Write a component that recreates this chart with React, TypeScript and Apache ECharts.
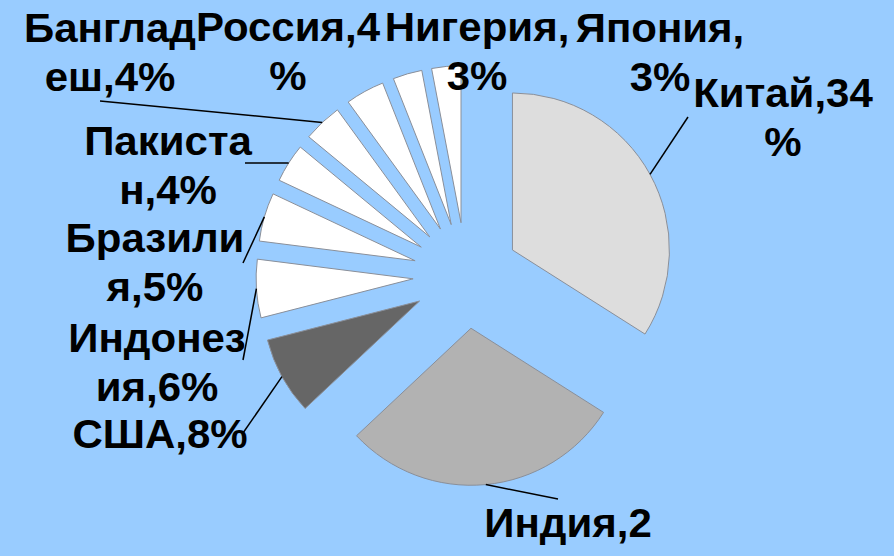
import React, { useEffect, useRef } from "react";
import * as echarts from "echarts";

// ---- data ----
const categories = [
  "Китай",
  "Индия",
  "США",
  "Индонезия",
  "Бразилия",
  "Пакистан",
  "Бангладеш",
  "Россия",
  "Нигерия",
  "Япония",
];
const values = [34, 29, 8, 6, 5, 4, 4, 4, 3, 3];

// ---- styling / layout (kept apart from the data) ----
const sliceColors = [
  "#DDDDDD",
  "#B2B2B2",
  "#666666",
  "#FFFFFF",
  "#FFFFFF",
  "#FFFFFF",
  "#FFFFFF",
  "#FFFFFF",
  "#FFFFFF",
  "#FFFFFF",
];
// character index at which each label wraps (0 = single line)
const labelBreakAt = [8, 7, 0, 7, 7, 7, 7, 8, 8, 7];
// [centre x, first-line baseline y]
const labelAnchors: [number, number][] = [
  [783, 107],
  [568, 537],
  [160, 448],
  [157, 352],
  [155, 252],
  [168, 155],
  [110, 42],
  [288, 41],
  [477, 41],
  [660, 42],
];
// where each leader line ends (null = no leader line)
const leaderEnds: ([number, number] | null)[] = [
  [688, 117],
  [558, 499],
  [243, 433],
  [243, 360],
  [243, 263],
  [245, 163],
  [100, 101],
  null,
  null,
  null,
];

const W = 894;
const H = 556;
const CENTER: [number, number] = [466, 275.5];
const RADIUS = 157;
const OFFSET = 53;
const FONT = 'bold 40px "Liberation Sans", Arial, sans-serif';
const LINE_H = 49;
const TEXT_SCALE_X = 1.05;

function labelText(i: number): string {
  const full = `${categories[i]},${values[i]}%`;
  const k = labelBreakAt[i];
  return k > 0 && k < full.length ? full.slice(0, k) + "\n" + full.slice(k) : full;
}

export default function App() {
  const ref = useRef<HTMLDivElement>(null);

  useEffect(() => {
    if (!ref.current) return;
    const chart = echarts.init(ref.current, undefined, { renderer: "svg" });

    const total = values.reduce((a, b) => a + b, 0);
    let cum = 0;
    const mids: number[] = values.map((v) => {
      const mid = ((cum + v / 2) / total) * 360;
      cum += v;
      return mid;
    });

    const graphics: any[] = [];
    values.forEach((_, i) => {
      const end = leaderEnds[i];
      if (end) {
        const t = (mids[i] * Math.PI) / 180;
        const dx = Math.sin(t);
        const dy = -Math.cos(t);
        const sx = CENTER[0] + (OFFSET + RADIUS) * dx;
        const sy = CENTER[1] + (OFFSET + RADIUS) * dy;
        graphics.push({
          type: "line",
          z: 100,
          shape: { x1: sx, y1: sy, x2: end[0], y2: end[1] },
          style: { stroke: "#000000", lineWidth: 1.5 },
        });
      }
    });
    values.forEach((_, i) => {
      const [x, b] = labelAnchors[i];
      graphics.push({
        type: "text",
        z: 101,
        x,
        y: b - 14 - LINE_H / 2,
        scaleX: TEXT_SCALE_X,
        style: {
          text: labelText(i),
          font: FONT,
          fill: "#000000",
          align: "center",
          textAlign: "center",
          verticalAlign: "top",
          textVerticalAlign: "top",
          lineHeight: LINE_H,
        },
      });
    });

    chart.setOption({
      animation: false,
      backgroundColor: "#99CCFF",
      series: [
        {
          type: "pie",
          center: CENTER,
          radius: RADIUS,
          startAngle: 90,
          clockwise: true,
          selectedMode: "multiple",
          selectedOffset: OFFSET,
          avoidLabelOverlap: false,
          label: { show: false },
          labelLine: { show: false },
          emphasis: { disabled: true },
          itemStyle: { borderColor: "#8a8f99", borderWidth: 1 },
          data: categories.map((name, i) => ({
            name,
            value: values[i],
            selected: true,
            itemStyle: { color: sliceColors[i] },
          })),
        },
      ],
      graphic: graphics,
    });

    return () => chart.dispose();
  }, []);

  return (
    <div
      ref={ref}
      style={{ position: "fixed", left: 0, top: 0, width: W, height: H }}
    />
  );
}
